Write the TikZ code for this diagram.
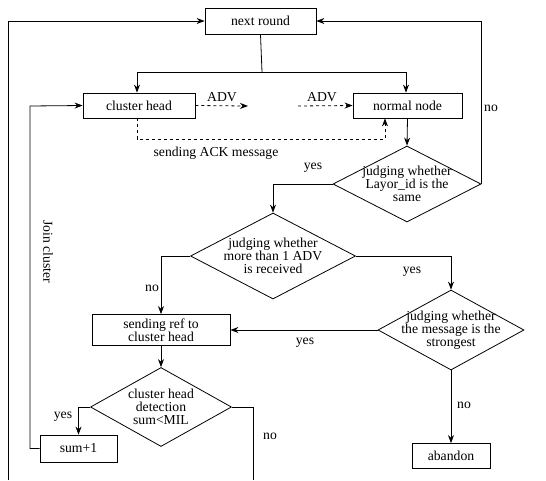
\documentclass[tikz,border=0pt]{standalone}
\usepackage{fontspec}
\setmainfont{Liberation Serif}
\usetikzlibrary{shapes.geometric,arrows.meta}
\begin{document}
\begin{tikzpicture}[x=1pt,y=-1pt,
  every node/.style={font=\fontsize{13.7}{13}\selectfont},
  line/.style={draw=black,line width=0.8pt},
  arr/.style={line,-{Stealth[length=8pt,width=6pt]}},
  box/.style={draw=black,line width=0.8pt,rectangle,inner sep=0pt,align=center},
  dia/.style={draw=black,line width=0.8pt,diamond,inner sep=0pt},
  lbl/.style={inner sep=0pt}
]
\useasboundingbox (0,0) rectangle (546,480);
% nodes
\node[box,minimum width=111pt,minimum height=26pt] (nr) at (260.5,21) {next round};
\node[box,minimum width=112pt,minimum height=25pt] (ch) at (139,105.5) {cluster head};
\node[box,minimum width=109pt,minimum height=25pt] (nn) at (407.5,105.5) {normal node};
\node[dia,minimum width=148pt,minimum height=76pt,label={[align=center,lbl]center:judging whether\\Layor\_id is the\\same}] (d1) at (407,184) {};
\node[dia,minimum width=165pt,minimum height=86pt,label={[align=center,lbl]center:judging whether\\more than 1 ADV\\is received}] (d2) at (273,256) {};
\node[dia,minimum width=146pt,minimum height=80pt,label={[align=center,lbl]center:judging whether\\the message is the\\strongest}] (d3) at (451,330) {};
\node[box,minimum width=138pt,minimum height=31pt] (sr) at (161,330) {sending ref to\\cluster head};
\node[dia,minimum width=141pt,minimum height=79pt,label={[align=center,lbl]center:cluster head\\detection\\sum<MIL}] (d4) at (161,407) {};
\node[box,minimum width=78pt,minimum height=25pt] (ab) at (451,456) {abandon};
\node[box,minimum width=77pt,minimum height=27pt] (su) at (78.5,448.5) {sum+1};
% coordinates
\coordinate (split) at (262,72);
\coordinate (advA) at (248,106);
\coordinate (advB) at (298,106);
\coordinate (ack) at (385,139);
\coordinate (jl) at (30,106);
\coordinate (ol) at (8,480);
\coordinate (nb) at (253,480);
% connectors
\draw[line] (nr.south) -- (split);
\draw[arr] (split) -| ([xshift=-2pt]ch.north);
\draw[arr] (split) -| ([xshift=-1.5pt]nn.north);
\draw[arr,dashed] (ch.east) -- (advA);
\draw[arr,dashed] (advB) -- (nn.west);
\draw[arr,dashed] ([xshift=-2pt]ch.south) |- (ack) -- (ack |- nn.south);
\draw[arr] (nn.south) -- (d1.north);
\draw[arr] (d1.east) |- (nr.east);
\draw[arr] (d1.west) -| (d2.north);
\draw[arr] (d2.west) -| (sr.north);
\draw[arr] (d2.east) -| (d3.north);
\draw[arr] (d3.west) -- (sr.east);
\draw[arr] (d3.south) -- (ab.north);
\draw[arr] (sr.south) -- (d4.north);
\draw[arr] (d4.west) -| (su.north);
\draw[arr] (su.west) -| (jl) -- (ch.west);
\draw[line] (d4.east) -| (nb);
\draw[arr] (ol) |- (nr.west);
% labels
\node[lbl] at (222,97) {ADV};
\node[lbl] at (322,97) {ADV};
\node[lbl] at (216,153) {sending ACK message};
\node[lbl] at (491,108) {no};
\node[lbl] at (313,168) {yes};
\node[lbl] at (152,288) {no};
\node[lbl] at (412,272) {yes};
\node[lbl] at (305,343) {yes};
\node[lbl] at (464,405) {no};
\node[lbl] at (63,417) {yes};
\node[lbl] at (270,436) {no};
\node[lbl,rotate=-90] at (48,252) {Join cluster};
\end{tikzpicture}
\end{document}
